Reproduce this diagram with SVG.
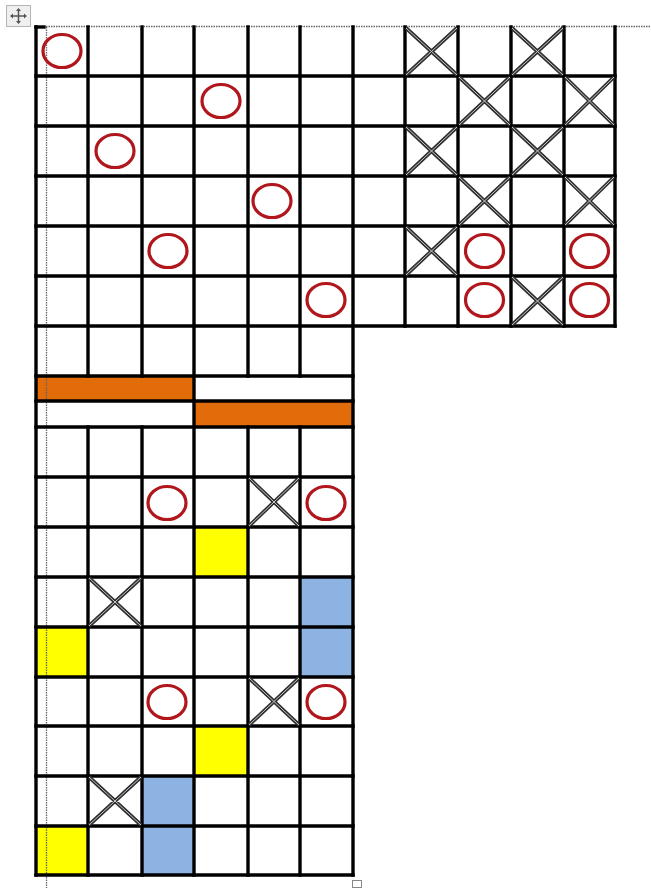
<svg xmlns="http://www.w3.org/2000/svg" width="651" height="888" viewBox="0 0 651 888">
<style>
.g{stroke:#000;stroke-width:3.4;stroke-linecap:square;fill:none}
.dot{stroke:#666;stroke-width:1.3;stroke-dasharray:1.5 1;fill:none}
.o{fill:none;stroke:#B0161C;stroke-width:3.2}
.xo{stroke:#2e2e2e;stroke-width:3.8;fill:none}
.xi{stroke:#c8c8c8;stroke-width:1;fill:none}
.or{fill:#E26B0A}
.ye{fill:#FFFF00}
.bl{fill:#8DB3E2}
</style>
<rect width="651" height="888" fill="#fff"/>
<g id="fills">
<rect class="or" x="36" y="376" width="158" height="25"/>
<rect class="or" x="194" y="401" width="159" height="26"/>
<rect class="ye" x="194" y="527" width="54" height="50"/>
<rect class="ye" x="36" y="627" width="52" height="50"/>
<rect class="ye" x="194" y="726" width="54" height="50"/>
<rect class="ye" x="36" y="826" width="52" height="49"/>
<rect class="bl" x="300" y="577" width="53" height="50"/>
<rect class="bl" x="300" y="627" width="53" height="50"/>
<rect class="bl" x="142" y="776" width="52" height="50"/>
<rect class="bl" x="142" y="826" width="52" height="49"/>
</g>
<g id="guides">
<line class="dot" x1="46" y1="26.5" x2="651" y2="26.5"/>
<line class="dot" x1="46.5" y1="27" x2="46.5" y2="888"/>
</g>
<g id="grid">
<line class="g" x1="36" y1="27" x2="44" y2="27"/>
<line class="g" x1="36" y1="27" x2="36" y2="875"/>
<path class="g" d="M88 27V376M142 27V376M194 27V875M248 27V376M300 27V376M353 27V875M405 27V326M458 27V326M511 27V326M564 27V326M615 27V326"/>
<path class="g" d="M88 427V875M142 427V875M248 427V875M300 427V875"/>
<path class="g" d="M36 76H615M36 126H615M36 176H615M36 226H615M36 276H615M36 326H615"/>
<path class="g" d="M36 376H353M36 401H353M36 427H353M36 477H353M36 527H353M36 577H353M36 627H353M36 677H353M36 726H353M36 776H353M36 826H353M36 875H353"/>
</g>
<g id="crosses">
<path class="xo" d="M406 28L457 75M457 28L406 75M512 28L563 75M563 28L512 75M459 77L510 125M510 77L459 125M565 77L614 125M614 77L565 125M406 127L457 175M457 127L406 175M512 127L563 175M563 127L512 175M459 177L510 225M510 177L459 225M565 177L614 225M614 177L565 225M406 227L457 275M457 227L406 275M512 277L563 325M563 277L512 325M249 478L299 526M299 478L249 526M89 578L141 626M141 578L89 626M249 678L299 725M299 678L249 725M89 777L141 825M141 777L89 825"/>
<path class="xi" d="M406 28L457 75M457 28L406 75M512 28L563 75M563 28L512 75M459 77L510 125M510 77L459 125M565 77L614 125M614 77L565 125M406 127L457 175M457 127L406 175M512 127L563 175M563 127L512 175M459 177L510 225M510 177L459 225M565 177L614 225M614 177L565 225M406 227L457 275M457 227L406 275M512 277L563 325M563 277L512 325M249 478L299 526M299 478L249 526M89 578L141 626M141 578L89 626M249 678L299 725M299 678L249 725M89 777L141 825M141 777L89 825"/>
</g>
<g id="circles">
<ellipse class="o" cx="62" cy="51" rx="19" ry="16.5"/>
<ellipse class="o" cx="221" cy="101" rx="19" ry="16.5"/>
<ellipse class="o" cx="115" cy="151" rx="19" ry="16.5"/>
<ellipse class="o" cx="272" cy="201" rx="19" ry="16.5"/>
<ellipse class="o" cx="168" cy="251" rx="19" ry="16.5"/>
<ellipse class="o" cx="484.5" cy="251" rx="19" ry="16.5"/>
<ellipse class="o" cx="589.5" cy="251" rx="19" ry="16.5"/>
<ellipse class="o" cx="326" cy="300" rx="19" ry="16.5"/>
<ellipse class="o" cx="484.5" cy="300" rx="19" ry="16.5"/>
<ellipse class="o" cx="589.5" cy="300" rx="19" ry="16.5"/>
<ellipse class="o" cx="167" cy="503" rx="19" ry="16.5"/>
<ellipse class="o" cx="326" cy="503" rx="19" ry="16.5"/>
<ellipse class="o" cx="167" cy="702" rx="19" ry="16.5"/>
<ellipse class="o" cx="326" cy="702" rx="19" ry="16.5"/>
</g>
<g id="move-handle">
<rect x="6.5" y="5.5" width="24" height="21" fill="#efefef" stroke="#b5b5b5"/>
<path d="M11 16H26M18.5 9V23" stroke="#555" stroke-width="1.5"/>
<path d="M10 16l3-2.5v5zM27 16l-3-2.5v5zM18.5 8l-2.5 3h5zM18.5 24l-2.5-3h5z" fill="#555"/>
</g>
<g id="resize-handle">
<rect x="352.5" y="880.5" width="9" height="7" fill="#fff" stroke="#888"/>
</g>
</svg>
